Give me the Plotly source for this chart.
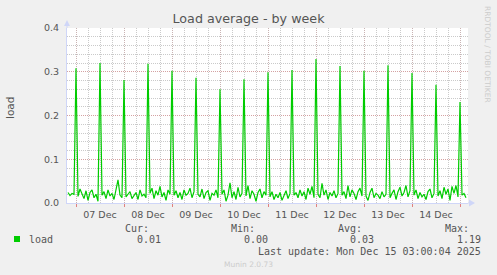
import pandas as pd
import plotly.graph_objects as go

# ---- data (hourly load average) ----
start_time = "2025-12-06 20:00"
load_dec06 = [0.024, 0.017, 0.022, 0.020]
load_dec07 = [0.308, 0.015, 0.032, 0.022, 0.010, 0.028, 0.006, 0.024, 0.030, 0.012, 0.020, 0.004,
              0.320, 0.018, 0.026, 0.010, 0.030, 0.016, 0.022, 0.008, 0.027, 0.053, 0.018, 0.012]
load_dec08 = [0.281, 0.014, 0.020, 0.026, 0.010, 0.018, 0.024, 0.008, 0.030, 0.016, 0.020, 0.012,
              0.318, 0.022, 0.034, 0.010, 0.028, 0.018, 0.038, 0.014, 0.024, 0.006, 0.030, 0.020]
load_dec09 = [0.302, 0.018, 0.028, 0.012, 0.024, 0.008, 0.030, 0.018, 0.022, 0.034, 0.012, 0.026,
              0.286, 0.020, 0.014, 0.032, 0.010, 0.024, 0.028, 0.006, 0.022, 0.018, 0.030, 0.012]
load_dec10 = [0.260, 0.020, 0.030, 0.004, 0.018, 0.046, 0.012, 0.026, 0.008, 0.036, 0.014, 0.022,
              0.283, 0.016, 0.040, 0.010, 0.028, 0.020, 0.004, 0.024, 0.032, 0.012, 0.026, 0.018]
load_dec11 = [0.299, 0.014, 0.026, 0.008, 0.020, 0.012, 0.024, 0.006, 0.018, 0.028, 0.010, 0.022,
              0.304, 0.018, 0.024, 0.012, 0.030, 0.016, 0.026, 0.008, 0.034, 0.020, 0.038, 0.012]
load_dec12 = [0.329, 0.020, 0.012, 0.045, 0.018, 0.030, 0.008, 0.024, 0.016, 0.028, 0.012, 0.022,
              0.313, 0.018, 0.026, 0.010, 0.040, 0.014, 0.030, 0.022, 0.008, 0.026, 0.034, 0.016]
load_dec13 = [0.302, 0.016, 0.006, 0.024, 0.034, 0.012, 0.022, 0.018, 0.010, 0.026, 0.014, 0.020,
              0.315, 0.012, 0.022, 0.030, 0.008, 0.026, 0.036, 0.016, 0.024, 0.040, 0.014, 0.028]
load_dec14 = [0.297, 0.018, 0.030, 0.010, 0.024, 0.014, 0.020, 0.008, 0.026, 0.032, 0.012, 0.022,
              0.270, 0.016, 0.028, 0.010, 0.036, 0.020, 0.032, 0.006, 0.038, 0.022, 0.040, 0.014]
load_dec15 = [0.231, 0.018, 0.022, 0.012]

day_ticks = ["2025-12-07", "2025-12-08", "2025-12-09", "2025-12-10", "2025-12-11",
             "2025-12-12", "2025-12-13", "2025-12-14", "2025-12-15"]
day_labels = ["07 Dec", "08 Dec", "09 Dec", "10 Dec", "11 Dec", "12 Dec", "13 Dec", "14 Dec", ""]
y_ticks = [0.0, 0.1, 0.2, 0.3, 0.4]
x_range = ["2025-12-06 19:30", "2025-12-15 04:00"]

legend_name = "load"
stat_heads = ["Cur:", "Min:", "Avg:", "Max:"]
stat_values = ["0.01", "0.00", "0.03", "1.19"]
last_update = "Last update: Mon Dec 15 03:00:04 2025"

load = (load_dec06 + load_dec07 + load_dec08 + load_dec09 + load_dec10 +
        load_dec11 + load_dec12 + load_dec13 + load_dec14 + load_dec15)
times = pd.date_range(start_time, periods=len(load), freq="h")

# ---- layout geometry (pixels) ----
W, H = 497, 275
L, R, T, B = 67, 468, 28, 203


def px(x):
    return (x - L) / (R - L)


def py(y):
    return (B - y) / (B - T)


FONT = "DejaVu Sans"
MONO = "DejaVu Sans Mono"
TXT = "#555555"
AXIS = "#CFD6F8"
MGRID_H = "rgba(220,130,130,0.55)"
MGRID_V = "rgba(200,150,150,0.45)"
GRID = "rgba(150,150,150,0.5)"

fig = go.Figure()
fig.add_trace(go.Scatter(x=times, y=load, mode="lines",
                         line=dict(color="#00CC00", width=1.2),
                         hoverinfo="skip", showlegend=False))

fig.update_layout(
    width=W, height=H,
    margin=dict(l=L, r=W - R, t=T, b=H - B, pad=0),
    paper_bgcolor="#F0F0F0", plot_bgcolor="#FFFFFF",
    showlegend=False,
    title=dict(text="Load average - by week", x=0.5, xref="container", xanchor="center",
               y=1 - 19 / H, yref="container", yanchor="middle",
               font=dict(family=FONT, size=12.7, color=TXT)),
    font=dict(family=FONT, size=9.5, color=TXT),
)

fig.update_xaxes(
    type="date", range=x_range,
    tickvals=day_ticks, ticktext=day_labels, ticklabelshift=24,
    ticks="outside", ticklen=3, tickcolor="#E08080", tickwidth=1,
    tickfont=dict(family=FONT, size=9.5, color=TXT),
    showgrid=True, gridcolor=MGRID_V, griddash="1px,1px", gridwidth=1,
    minor=dict(dtick=6 * 3600 * 1000, tick0="2025-12-07", showgrid=True,
               gridcolor=GRID, griddash="1px,1px", gridwidth=1, ticks=""),
    showline=True, linecolor=AXIS, linewidth=1, zeroline=False,
)
fig.update_yaxes(
    range=[0, 0.4], tickvals=y_ticks, tickformat=".1f",
    ticks="", ticklabelstandoff=5,
    tickfont=dict(family=FONT, size=9.5, color=TXT),
    showgrid=True, gridcolor=MGRID_H, griddash="1px,1px", gridwidth=1,
    minor=dict(dtick=0.02, showgrid=True, gridcolor=GRID, griddash="1px,1px", gridwidth=1),
    showline=True, linecolor=AXIS, linewidth=1, zeroline=False,
)

shapes = []
# axis extensions and arrows
shapes.append(dict(type="line", xref="paper", yref="paper", x0=px(L), x1=px(L), y0=1, y1=py(22),
                   line=dict(color=AXIS, width=1)))
shapes.append(dict(type="path", xref="paper", yref="paper",
                   path=f"M {px(64)} {py(26)} L {px(70)} {py(26)} L {px(67)} {py(20)} Z",
                   fillcolor=AXIS, line=dict(color=AXIS, width=0)))
shapes.append(dict(type="path", xref="paper", yref="paper",
                   path=f"M {px(469)} {py(199.5)} L {px(469)} {py(206.5)} L {px(475)} {py(203)} Z",
                   fillcolor=AXIS, line=dict(color=AXIS, width=0)))
shapes.append(dict(type="line", xref="paper", yref="paper", x0=1, x1=px(470), y0=0, y1=0,
                   line=dict(color=AXIS, width=1)))
# legend swatch
shapes.append(dict(type="rect", xref="paper", yref="paper", x0=px(14), x1=px(20),
                   y0=py(242), y1=py(236), fillcolor="#00CC00", line=dict(width=0)))
fig.update_layout(shapes=shapes)

ann = []
ann.append(dict(text="load", x=px(10), y=py(108), xref="paper", yref="paper", showarrow=False,
                textangle=-90, font=dict(family=FONT, size=10.5, color=TXT),
                xanchor="center", yanchor="middle"))
ann.append(dict(text="RRDTOOL / TOBI OETIKER", x=px(488), y=py(54), xref="paper", yref="paper",
                showarrow=False, textangle=90, font=dict(family=FONT, size=7.5, color="#CCCCCC"),
                xanchor="center", yanchor="middle"))
ann.append(dict(text=legend_name, x=px(27), y=py(239), xref="paper", yref="paper", showarrow=False,
                xanchor="left", yanchor="middle", font=dict(family=MONO, size=10, color=TXT)))
head_right = [151, 257, 364, 471]
val_right = [163, 270, 376, 483]
for h, v, hx, vx in zip(stat_heads, stat_values, head_right, val_right):
    ann.append(dict(text=h, x=px(hx), y=py(228), xref="paper", yref="paper", showarrow=False,
                    xanchor="right", yanchor="middle", font=dict(family=MONO, size=10, color=TXT)))
    ann.append(dict(text=v, x=px(vx), y=py(239), xref="paper", yref="paper", showarrow=False,
                    xanchor="right", yanchor="middle", font=dict(family=MONO, size=10, color=TXT)))
ann.append(dict(text=last_update, x=px(483), y=py(251), xref="paper", yref="paper", showarrow=False,
                xanchor="right", yanchor="middle", font=dict(family=MONO, size=10, color=TXT)))
ann.append(dict(text="Munin 2.0.73", x=px(248), y=py(264), xref="paper", yref="paper",
                showarrow=False, xanchor="center", yanchor="middle",
                font=dict(family=FONT, size=7.5, color="#CCCCCC")))
fig.update_layout(annotations=ann)

fig.write_html("out.html")
